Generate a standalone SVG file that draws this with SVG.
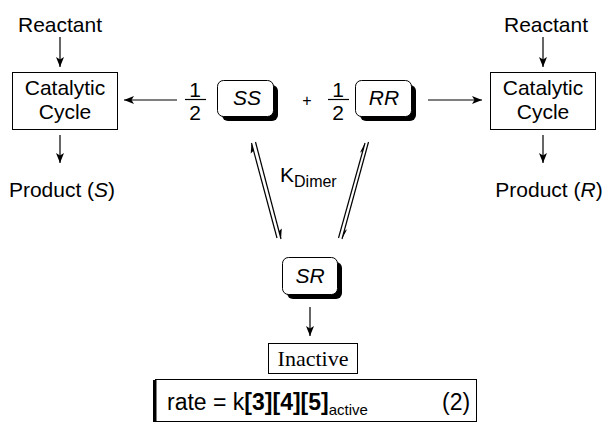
<svg xmlns="http://www.w3.org/2000/svg" width="612" height="425" viewBox="0 0 612 425">
<style>
text{font-family:"Liberation Sans",Arial,sans-serif;font-size:21px;fill:#000}
.c{text-anchor:middle}
.i{font-style:italic}
.b{font-weight:bold}
.box{fill:#fff;stroke:#000;stroke-width:1}
.ln{stroke:#000;stroke-width:1.2;fill:none}
.hp{fill:#000;stroke:none}
</style>
<defs>
<marker id="ah" viewBox="0 0 10 8" refX="10" refY="4" markerWidth="10" markerHeight="8" markerUnits="userSpaceOnUse" orient="auto">
<path d="M0,0 L10,4 L0,8 L2.5,4 Z" fill="#000"/>
</marker>
</defs>
<g id="reactant-left"><text class="c" x="60" y="32">Reactant</text></g>
<g id="cycle-left"><rect class="box" x="12.5" y="72.5" width="105" height="57"/>
<text class="c" x="65" y="95">Catalytic</text><text class="c" x="65" y="119">Cycle</text></g>
<g id="product-left"><text class="c" x="62" y="197">Product (<tspan class="i">S</tspan>)</text></g>
<g id="reactant-right"><text class="c" x="546" y="32">Reactant</text></g>
<g id="cycle-right"><rect class="box" x="490.5" y="72.5" width="105" height="57"/>
<text class="c" x="543" y="95">Catalytic</text><text class="c" x="543" y="119">Cycle</text></g>
<g id="product-right"><text class="c" x="549" y="197">Product (<tspan class="i">R</tspan>)</text></g>
<g id="frac-left"><text class="c" x="195" y="97">1</text><line x1="185" y1="99.5" x2="206" y2="99.5" stroke="#000" stroke-width="1.2"/><text class="c" x="195" y="120">2</text></g>
<g id="SS"><rect x="222" y="85" width="56" height="36" rx="6" fill="#000"/><rect x="217.5" y="80.5" width="56" height="36" rx="6" class="box"/><text class="c i" x="247" y="105">SS</text></g>
<g id="plus"><text class="c" x="307" y="106" style="font-size:16px">+</text></g>
<g id="frac-right"><text class="c" x="338" y="97">1</text><line x1="328" y1="99.5" x2="349" y2="99.5" stroke="#000" stroke-width="1.2"/><text class="c" x="338" y="120">2</text></g>
<g id="RR"><rect x="360" y="85" width="56" height="36" rx="6" fill="#000"/><rect x="355.5" y="80.5" width="56" height="36" rx="6" class="box"/><text class="c i" x="384" y="105">RR</text></g>
<g id="kdimer"><text x="280" y="182">K<tspan dy="5" style="font-size:16px">Dimer</tspan></text></g>
<g id="SR"><rect x="287" y="262" width="55" height="37" rx="6" fill="#000"/><rect x="282.5" y="257.5" width="55" height="37" rx="6" class="box"/><text class="c i" x="310" y="283">SR</text></g>
<g id="inactive"><rect class="box" x="268.5" y="343.5" width="89" height="30"/><text class="c" x="313" y="366" style="font-family:'Liberation Serif','Times New Roman',serif;font-size:22px">Inactive</text></g>
<g id="rate"><rect class="box" x="155.5" y="379.5" width="321" height="42" stroke-width="1.5"/><rect x="153" y="380" width="3.5" height="42" fill="#000"/>
<text x="167" y="410" style="font-size:23px">rate = k<tspan class="b">[3][4][5]</tspan><tspan dy="5" style="font-size:15px">active</tspan></text>
<text x="442" y="410" style="font-size:23px">(2)</text></g>
<g id="connectors">
<line class="ln" x1="60" y1="37" x2="60" y2="67" marker-end="url(#ah)"/>
<line class="ln" x1="60" y1="135" x2="60" y2="163" marker-end="url(#ah)"/>
<line class="ln" x1="543" y1="37" x2="543" y2="67" marker-end="url(#ah)"/>
<line class="ln" x1="543" y1="135" x2="543" y2="163" marker-end="url(#ah)"/>
<line class="ln" x1="177" y1="100" x2="124" y2="100" marker-end="url(#ah)"/>
<line class="ln" x1="428" y1="100" x2="482" y2="100" marker-end="url(#ah)"/>
<line class="ln" x1="310" y1="307" x2="310" y2="336" marker-end="url(#ah)"/>
<line class="ln" x1="251.5" y1="143" x2="277" y2="238"/>
<polygon class="hp" points="251.5,143 250.7,153.6 253.6,150.7"/>
<line class="ln" x1="255.5" y1="142" x2="281" y2="239"/>
<polygon class="hp" points="281,239 281.8,228.4 278.9,231.3"/>
<line class="ln" x1="365" y1="143" x2="338.5" y2="238"/>
<polygon class="hp" points="365,143 359.9,152.7 362.8,150.7"/>
<line class="ln" x1="368.5" y1="142" x2="342" y2="239"/>
<polygon class="hp" points="342,239 347.1,229.3 344.2,231.3"/>
</g>
</svg>
